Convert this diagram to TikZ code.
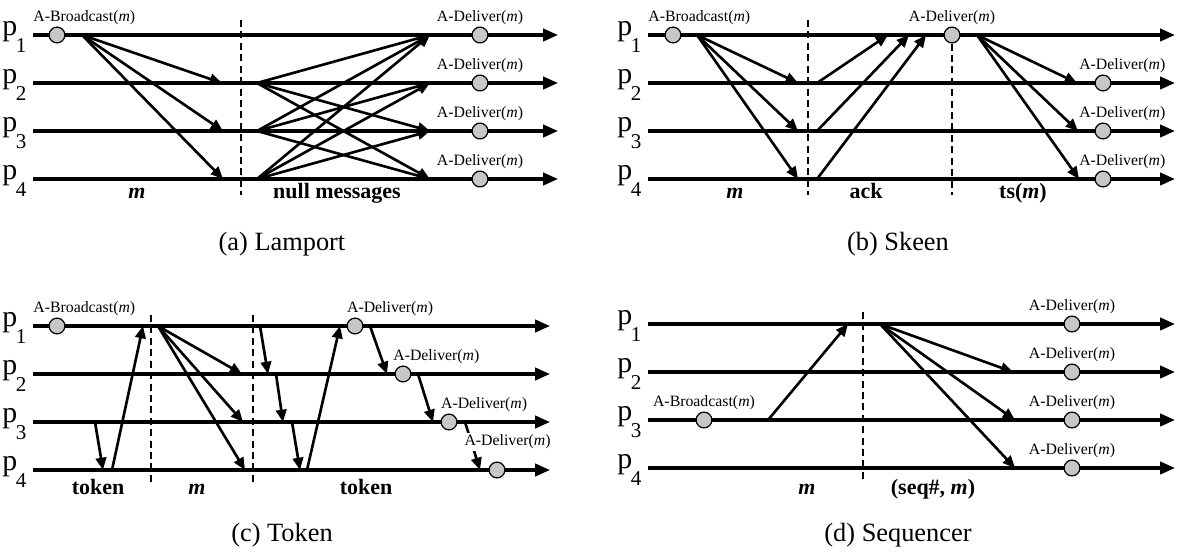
\documentclass[tikz,border=0pt]{standalone}
\usepackage{fontspec}
\setmainfont{Liberation Serif}
\usetikzlibrary{positioning, arrows.meta}

\newcommand{\pname}[1]{{\fontsize{17}{17}\selectfont p}\kern-0.8pt\raisebox{-9.5pt}{\fontsize{12}{12}\selectfont #1}}
\newcommand{\am}{(\textit{m})}

\begin{document}
\begin{tikzpicture}[
    x=0.02cm, y=-0.02cm,
    proc/.style={line width=1.8pt, -{Triangle[length=8.5pt, width=7pt]}},
    msg/.style={line width=1.5pt, -{Triangle[length=7pt, width=6pt]}},
    cut/.style={line width=0.8pt, dash pattern=on 4pt off 2.5pt},
    evt/.style={circle, draw, line width=0.7pt, fill=black!22,
        minimum size=9pt, inner sep=0pt},
    lbl/.style={font=\fontsize{9}{10}\selectfont, inner sep=1pt},
    phase/.style={font=\fontsize{12.5}{13}\selectfont\bfseries,
        anchor=base, inner sep=0pt},
    plabel/.style={inner sep=1pt, yshift=-1pt},
    caption/.style={font=\fontsize{15}{16}\selectfont}
]
\useasboundingbox (0,0) rectangle (1177,555);

%% ---- process lines of the four panels ----
\foreach \pn/\xs/\xe/\yo in {a/33/558/35, b/648/1175/35, c/33/550/326, d/648/1175/324} {
    \foreach \i in {1,...,4} {
        \coordinate (\pn\i s) at (\xs, \yo+48*\i-48);
        \coordinate (\pn\i e) at (\xe, \yo+48*\i-48);
        \draw[proc] (\pn\i s) -- (\pn\i e);
        \node[plabel, left=2.5pt of \pn\i s] (\pn\i p) {\pname{\i}};
    }
}

%% ---- (a) Lamport ----
\node[evt] (a1b) at (57,35) {};
\node[lbl, above right=4.5pt and -1pt of a1s] (a1bl) {A-Broadcast\am};

% m to everybody
\coordinate (a1m) at (82,35);
\coordinate (a2m) at (222,83);
\coordinate (a3m) at (223,131);
\coordinate (a4m) at (223,179);
\foreach \i in {2,3,4} \draw[msg] (a1m) -- (a\i m);
\draw[cut] (241,20) -- (241,195);

% null messages
\foreach \i in {1,...,4} {
    \coordinate (a\i n) at (257, 35+48*\i-48);
    \coordinate (a\i r) at (430, 35+48*\i-48);
}
\foreach \u/\v in {2/1,3/1,4/1,2/3,2/4,3/2,3/4,4/2,4/3}
    \draw[msg] (a\u n) -- (a\v r);

\foreach \i in {1,...,4} {
    \node[evt] (a\i d) at (480, 35+48*\i-48) {};
    \node[lbl, above=0pt of a\i d] (a\i dl) {A-Deliver\am};
}

\node[phase] (aph1) at (137,198) {\textit{m}};
\node[phase] (aph2) at (337,198) {null messages};
\node[caption] (capa) at (282,244) {(a) Lamport};

%% ---- (b) Skeen ----
\node[evt] (b1b) at (673,35) {};
\node[lbl, above right=4.5pt and -1pt of b1s] (b1bl) {A-Broadcast\am};

\coordinate (b1m) at (697,35);
\coordinate (b2m) at (798,83);
\coordinate (b3m) at (798,131);
\coordinate (b4m) at (798,179);
\foreach \i in {2,3,4} \draw[msg] (b1m) -- (b\i m);
\draw[cut] (808,20) -- (808,195);

% acks back to p1
\foreach \i/\x in {2/888,3/909,4/926} {
    \coordinate (b\i k) at (817, 35+48*\i-48);
    \coordinate (b1k\i) at (\x,35);
    \draw[msg] (b\i k) -- (b1k\i);
}

\node[evt] (b1d) at (952,35) {};
\node[lbl, above=0pt of b1d] (b1dl) {A-Deliver\am};
\draw[cut] (b1d.south) -- (b1d.south |- 0,195);

% ts(m)
\coordinate (b1t) at (977,35);
\coordinate (b2t) at (1077,83);
\coordinate (b3t) at (1078,131);
\coordinate (b4t) at (1079,179);
\foreach \i in {2,3,4} {
    \draw[msg] (b1t) -- (b\i t);
    \node[evt] (b\i d) at (1103, 35+48*\i-48) {};
    \node[lbl, above=0pt of b\i d, xshift=11pt] (b\i dl) {A-Deliver\am};
}

\node[phase] (bph1) at (735,198) {\textit{m}};
\node[phase] (bph2) at (866,198) {ack};
\node[phase] (bph3) at (1023,198) {ts(\textit{m})};
\node[caption] (capb) at (898,244) {(b) Skeen};

%% ---- (c) Token ----
\node[evt] (c1b) at (57,326) {};
\node[lbl, above right=4.5pt and -1pt of c1s] (c1bl) {A-Broadcast\am};

% token reaches p1
\coordinate (ct1) at (95,422);
\coordinate (ct2) at (103,470);
\coordinate (ct3) at (112,470);
\coordinate (ct4) at (143,326);
\draw[msg] (ct1) -- (ct2);
\draw[msg] (ct3) -- (ct4);
\draw[cut] (151,315) -- (151,485);

% m
\coordinate (c1m) at (158,326);
\coordinate (c2m) at (242,374);
\coordinate (c3m) at (243,422);
\coordinate (c4m) at (245,470);
\foreach \i in {2,3,4} \draw[msg] (c1m) -- (c\i m);
\draw[cut] (253,315) -- (253,485);

% token goes round
\coordinate (ct5) at (260,326);
\coordinate (ct6) at (268,374);
\coordinate (ct7) at (276,374);
\coordinate (ct8) at (283,422);
\coordinate (ct9) at (292,422);
\coordinate (ct10) at (300,470);
\coordinate (ct11) at (307,470);
\coordinate (ct12) at (340,326);
\draw[msg] (ct5) -- (ct6);
\draw[msg] (ct7) -- (ct8);
\draw[msg] (ct9) -- (ct10);
\draw[msg] (ct11) -- (ct12);

% delivery chain
\coordinate (cu1) at (370,326);
\coordinate (cu2) at (387,374);
\coordinate (cu3) at (418,374);
\coordinate (cu4) at (433,422);
\coordinate (cu5) at (465,422);
\coordinate (cu6) at (480,470);
\draw[msg] (cu1) -- (cu2);
\draw[msg] (cu3) -- (cu4);
\draw[msg] (cu5) -- (cu6);
\node[evt] (c1d) at (355,326) {};
\node[evt] (c2d) at (403,374) {};
\node[evt] (c3d) at (449,422) {};
\node[evt] (c4d) at (497,470) {};
\node[lbl, above=0pt of c1d, xshift=20pt] (c1dl) {A-Deliver\am};
\node[lbl, above=0pt of c2d, xshift=19pt] (c2dl) {A-Deliver\am};
\node[lbl, above=0pt of c3d, xshift=20pt] (c3dl) {A-Deliver\am};
\node[lbl, fill=white, above=6pt of c4d, xshift=6pt] (c4dl) {A-Deliver\am};

\node[phase] (cph1) at (98,494) {token};
\node[phase] (cph2) at (197,494) {\textit{m}};
\node[phase] (cph3) at (366,494) {token};
\node[caption] (capc) at (282,535) {(c) Token};

%% ---- (d) Sequencer ----
\node[evt] (d3b) at (704,420) {};
\node[lbl, above=0pt of d3b] (d3bl) {A-Broadcast\am};

\coordinate (d3x) at (768,420);
\coordinate (d1x) at (848,324);
\draw[msg] (d3x) -- (d1x);
\draw[cut] (863,312) -- (863,483);

% (seq#, m)
\coordinate (d1q) at (880,324);
\coordinate (d2q) at (1013,372);
\coordinate (d3q) at (1015,420);
\coordinate (d4q) at (1015,468);
\foreach \i in {2,3,4} \draw[msg] (d1q) -- (d\i q);

\foreach \i in {1,...,4} {
    \node[evt] (d\i d) at (1072, 324+48*\i-48) {};
    \node[lbl, above=0pt of d\i d] (d\i dl) {A-Deliver\am};
}

\node[phase] (dph1) at (807,494) {\textit{m}};
\node[phase] (dph2) at (933,494) {(seq\#, \textit{m})};
\node[caption] (capd) at (898,535) {(d) Sequencer};

\end{tikzpicture}
\end{document}
